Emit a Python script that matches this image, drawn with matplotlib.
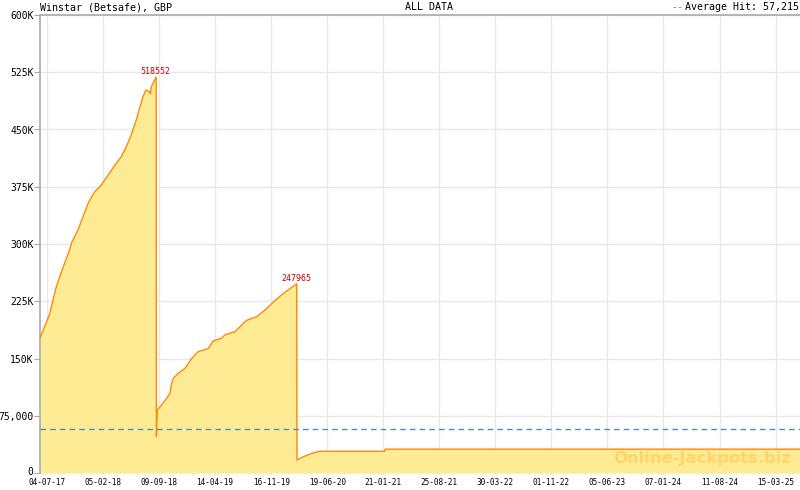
import matplotlib
matplotlib.use('Agg')
import matplotlib.pyplot as plt
import matplotlib.dates as mdates
import matplotlib.transforms as mtransforms
import numpy as np
from datetime import datetime, timedelta

# jackpot values
dates = [
    '2017-06-08', '2017-06-26', '2017-07-16', '2017-07-28', '2017-08-10', '2017-08-23',
    '2017-09-11', '2017-09-30', '2017-10-07', '2017-11-01', '2017-11-21', '2017-12-10',
    '2018-01-05', '2018-01-30', '2018-02-25', '2018-03-23', '2018-04-17', '2018-05-07',
    '2018-05-26', '2018-06-14', '2018-06-27', '2018-07-10', '2018-07-22', '2018-08-04',
    '2018-08-08', '2018-08-11', '2018-08-30',
    '2018-08-31', '2018-09-03', '2018-09-20', '2018-10-09', '2018-10-22', '2018-10-29',
    '2018-11-04', '2018-11-23', '2018-12-19', '2019-01-14', '2019-02-08', '2019-03-19',
    '2019-04-07', '2019-05-09', '2019-05-22', '2019-06-30', '2019-07-19', '2019-08-14',
    '2019-09-22', '2019-10-24', '2019-11-25', '2020-01-02', '2020-02-23',
    '2020-02-24', '2020-03-20', '2020-04-15', '2020-05-04', '2020-05-23', '2021-01-28',
    '2021-01-29', '2025-06-17',
]
values = [
    177000, 191700, 209000, 226600, 244000, 257000,
    274700, 292000, 301000, 318000, 335700, 353000,
    368500, 377000, 390000, 403000, 414000, 427500,
    443000, 462000, 477800, 493000, 501700, 499500,
    497000, 506000, 518552,
    47600, 82500, 89000, 97800, 104000, 117500,
    124000, 130600, 137000, 150000, 159000, 163000,
    173000, 176500, 181000, 185000, 191600, 200000,
    204800, 213500, 224000, 235000, 247965,
    17000, 21400, 24900, 27000, 28400, 28400,
    31200, 31200,
]
peaks = [('2018-08-30', 518552), ('2020-02-23', 247965)]
average_hit = 57215

tick_dates = ['2017-07-04', '2018-02-05', '2018-09-09', '2019-04-14', '2019-11-16',
              '2020-06-19', '2021-01-21', '2021-08-25', '2022-03-30', '2022-11-01',
              '2023-06-05', '2024-01-07', '2024-08-11', '2025-03-15']

y_ticks = [0, 75000, 150000, 225000, 300000, 375000, 450000, 525000, 600000]
y_labels = ['0', '75,000', '150K', '225K', '300K', '375K', '450K', '525K', '600K']

x = [datetime.strptime(d, '%Y-%m-%d') for d in dates]
major = [datetime.strptime(d, '%Y-%m-%d') for d in tick_dates]
x_start, x_end = datetime(2017, 6, 8), datetime(2025, 6, 17)

# minor ticks: 10 per major interval, extended to both edges
step = (major[-1] - major[0]) / (10 * (len(major) - 1))
minor = [major[0] + step * i for i in range(-3, 140)]
minor = [m for m in minor if x_start <= m <= x_end]

plt.rcParams['font.family'] = ['DejaVu Sans Mono']
fig = plt.figure(figsize=(8, 4.9), dpi=100)
ax = fig.add_axes([40/800, 1 - 473/490, 760/800, 458/490])

ax.fill_between(x, values, 0, color='#ffeb94', linewidth=0, zorder=2)
ax.plot(x, values, color='#ff8800', linewidth=1.0, zorder=3)
ax.axhline(average_hit, color='#4a90b8', linewidth=1, linestyle=(0, (4, 3)), zorder=4)

for d, v in peaks:
    ax.annotate(str(v), (datetime.strptime(d, '%Y-%m-%d'), v), xytext=(-0.5, 0.5),
                textcoords='offset points', ha='center', va='bottom',
                color='#cc0000', fontsize=6, zorder=5)

ax.set_xticks(major)
ax.set_xticks(minor, minor=True)
ax.xaxis.set_major_formatter(mdates.DateFormatter('%d-%m-%y'))
ax.set_yticks(y_ticks)
ax.set_yticklabels(y_labels)
ax.set_xlim(x_start, x_end)
ax.set_ylim(0, 600000)

ax.grid(True, color='#e8e8e8', linewidth=1, zorder=0)
ax.set_axisbelow(True)
ax.tick_params(axis='x', which='major', direction='in', length=6, color='#aaaaaa',
               labelsize=5.6, pad=3.5)
ax.tick_params(axis='x', which='minor', direction='in', length=3, color='#aaaaaa')
ax.tick_params(axis='y', direction='out', length=4, color='#aaaaaa', labelsize=7, pad=0.5)
for t in ax.get_xticklabels() + ax.get_yticklabels():
    t.set_zorder(6)

# lift the "0" label a little so it clears the first date label
zero = ax.get_yticklabels()[0]
zero.set_transform(zero.get_transform() +
                   mtransforms.ScaledTranslation(0, 2.5/100, fig.dpi_scale_trans))

for s in ['right', 'bottom']:
    ax.spines[s].set_visible(False)
for s in ['left', 'top']:
    ax.spines[s].set_color('#aaaaaa')
    ax.spines[s].set_linewidth(1.2)

fig.text(40/800, 1 - 7/490, 'Winstar (Betsafe), GBP', ha='left', va='center', fontsize=7.2)
fig.text(429/800, 1 - 7/490, 'ALL DATA', ha='center', va='center', fontsize=7.2)
fig.text(799/800, 1 - 7/490, 'Average Hit: 57,215', ha='right', va='center', fontsize=7.2)
fig.text(683/800, 1 - 7/490, '--', ha='right', va='center', fontsize=7.2, color='#4a90b8')

ax.text(0.988, 0.022, 'Online-Jackpots.biz', transform=ax.transAxes, ha='right', va='baseline',
        fontsize=11.8, fontweight='bold', family='DejaVu Sans', color='#ffc040', alpha=0.5,
        zorder=5)

fig.savefig('out.png', dpi=100)
